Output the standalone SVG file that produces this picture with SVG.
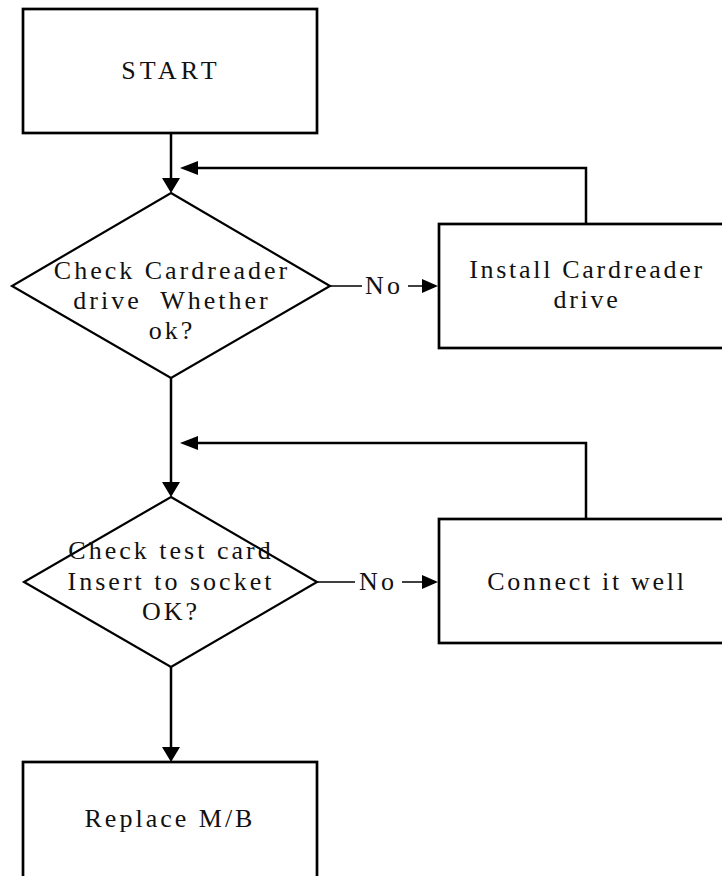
<svg xmlns="http://www.w3.org/2000/svg" width="722" height="876" viewBox="0 0 722 876">
<style>
.box{fill:#fff;stroke:#000;stroke-width:2.7}
.dia{fill:#fff;stroke:#000;stroke-width:2.2}
.t{font-family:"Liberation Serif","Times New Roman",serif;font-size:26px;fill:#111;text-anchor:middle;letter-spacing:3px;white-space:pre}
.t2{letter-spacing:2.7px}
.ln{fill:none;stroke:#000;stroke-width:2.5}
.thin{fill:none;stroke:#000;stroke-width:1.5}
.ah{fill:#000;stroke:none}
</style>
<rect width="722" height="876" fill="#fff"/>
<g id="connectors">
<line class="ln" x1="171" y1="133" x2="171" y2="180"/>
<polygon class="ah" points="162,178 180,178 171,193"/>
<polyline class="ln" points="586,224 586,168 197,168"/>
<polygon class="ah" points="180,168 198,161 198,175"/>
<line class="thin" x1="330" y1="286" x2="362" y2="286"/>
<line class="thin" x1="408" y1="286" x2="424" y2="286"/>
<polygon class="ah" points="438,286 422,279 422,293"/>
<line class="ln" x1="171" y1="378" x2="171" y2="484"/>
<polygon class="ah" points="162,482 180,482 171,497"/>
<polyline class="ln" points="586,519 586,443 197,443"/>
<polygon class="ah" points="180,443 198,436 198,450"/>
<line class="thin" x1="317" y1="582" x2="355" y2="582"/>
<line class="thin" x1="402" y1="582" x2="424" y2="582"/>
<polygon class="ah" points="438,582 422,575 422,589"/>
<line class="ln" x1="171" y1="667" x2="171" y2="749"/>
<polygon class="ah" points="162,747 180,747 171,762"/>
<text class="t" x="384" y="294">No</text>
<text class="t" x="378" y="590">No</text>
</g>
<g id="start">
<rect class="box" x="23" y="9" width="294" height="124"/>
<text class="t" x="171" y="79" style="letter-spacing:4.2px">START</text>
</g>
<g id="check-driver">
<polygon class="dia" points="171,193 330,286 171,378 12,286"/>
<text class="t" x="172" y="279">Check Cardreader</text>
<text class="t" x="172" y="309">drive  Whether</text>
<text class="t" x="172" y="339">ok?</text>
</g>
<g id="install-driver">
<rect class="box" x="439" y="224" width="300" height="124"/>
<text class="t t2" x="587" y="278">Install Cardreader</text>
<text class="t t2" x="587" y="308">drive</text>
</g>
<g id="check-socket">
<polygon class="dia" points="171,497 317,582 171,667 24,582"/>
<text class="t" x="171" y="559">Check test card</text>
<text class="t" x="171" y="590">Insert to socket</text>
<text class="t" x="171" y="620">OK?</text>
</g>
<g id="connect-well">
<rect class="box" x="439" y="519" width="300" height="124"/>
<text class="t t2" x="587" y="590">Connect it well</text>
</g>
<g id="replace-mb">
<rect class="box" x="23" y="762" width="294" height="130"/>
<text class="t" x="170" y="827">Replace M/B</text>
</g>
</svg>
